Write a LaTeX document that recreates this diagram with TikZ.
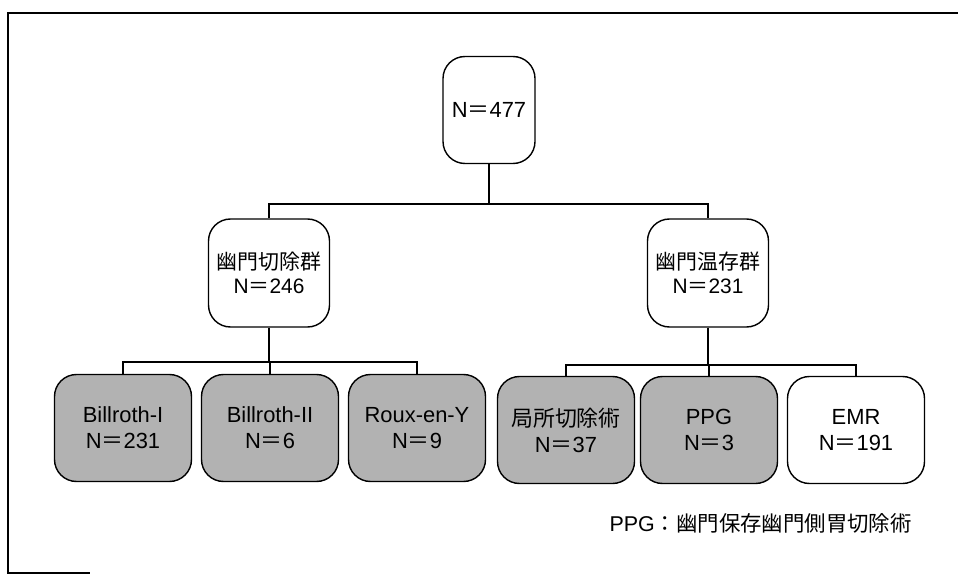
\documentclass[tikz,border=0pt]{standalone}
\usepackage{fontspec}
\setmainfont{Liberation Sans}
\newfontfamily\jp{Noto Sans CJK JP}
\definecolor{stip}{RGB}{178,178,178}
\begin{document}
\begin{tikzpicture}[x=1bp,y=-1bp,
  box/.style={draw, rounded corners=22bp, line width=1.4bp, align=center,
    inner sep=0pt},
  mid/.style={box, minimum width=121bp, minimum height=108bp, font=\fontsize{21}{24}\selectfont},
  leaf/.style={box, minimum width=137bp, minimum height=107bp, font=\fontsize{22}{26}\selectfont},
  shaded/.style={leaf, fill=stip},
  conn/.style={line width=1.4bp}]
\useasboundingbox (0,0) rectangle (958,575);
% frame
\draw[line width=1.2bp] (958,13) -- (8,13) -- (8,573) -- (90,573);
% nodes
\node[box, minimum width=92bp, minimum height=107bp, font=\fontsize{22}{26}\selectfont] (root) at (489,110) {N{\jp ＝}477};
\node[mid] (L) at (269,273) {{\jp 幽門切除群}\\N{\jp ＝}246};
\node[mid] (R) at (708,273) {{\jp 幽門温存群}\\N{\jp ＝}231};
\node[shaded] (b1) at (123,428) {Billroth-I\\N{\jp ＝}231};
\node[shaded] (b2) at (270,428) {Billroth-II\\N{\jp ＝}6};
\node[shaded] (b3) at (417,428) {Roux-en-Y\\N{\jp ＝}9};
\node[shaded] (b4) at (566,430) {{\jp 局所切除術}\\N{\jp ＝}37};
\node[shaded] (b5) at (709,430) {PPG\\N{\jp ＝}3};
\node[leaf] (b6) at (856,430) {EMR\\N{\jp ＝}191};
\node[anchor=east, font=\fontsize{21.5}{24}\selectfont, inner sep=0pt] (note) at (912,523) {PPG{\jp ：幽門保存幽門側胃切除術}};
% connectors
\coordinate (j0) at (489,204);
\coordinate (jL) at (269,362);
\coordinate (jR) at (708,365);
\draw[conn] (root.south) -- (j0);
\draw[conn] (L.north) |- (j0) -| (R.north);
\draw[conn] (L.south) -- (jL);
\draw[conn] (b1.north) |- (jL) -| (b3.north);
\draw[conn] (jL) -| (b2.north);
\draw[conn] (R.south) -- (jR);
\draw[conn] (b4.north) |- (jR) -| (b6.north);
\draw[conn] (jR) -| (b5.north);
\end{tikzpicture}
\end{document}
